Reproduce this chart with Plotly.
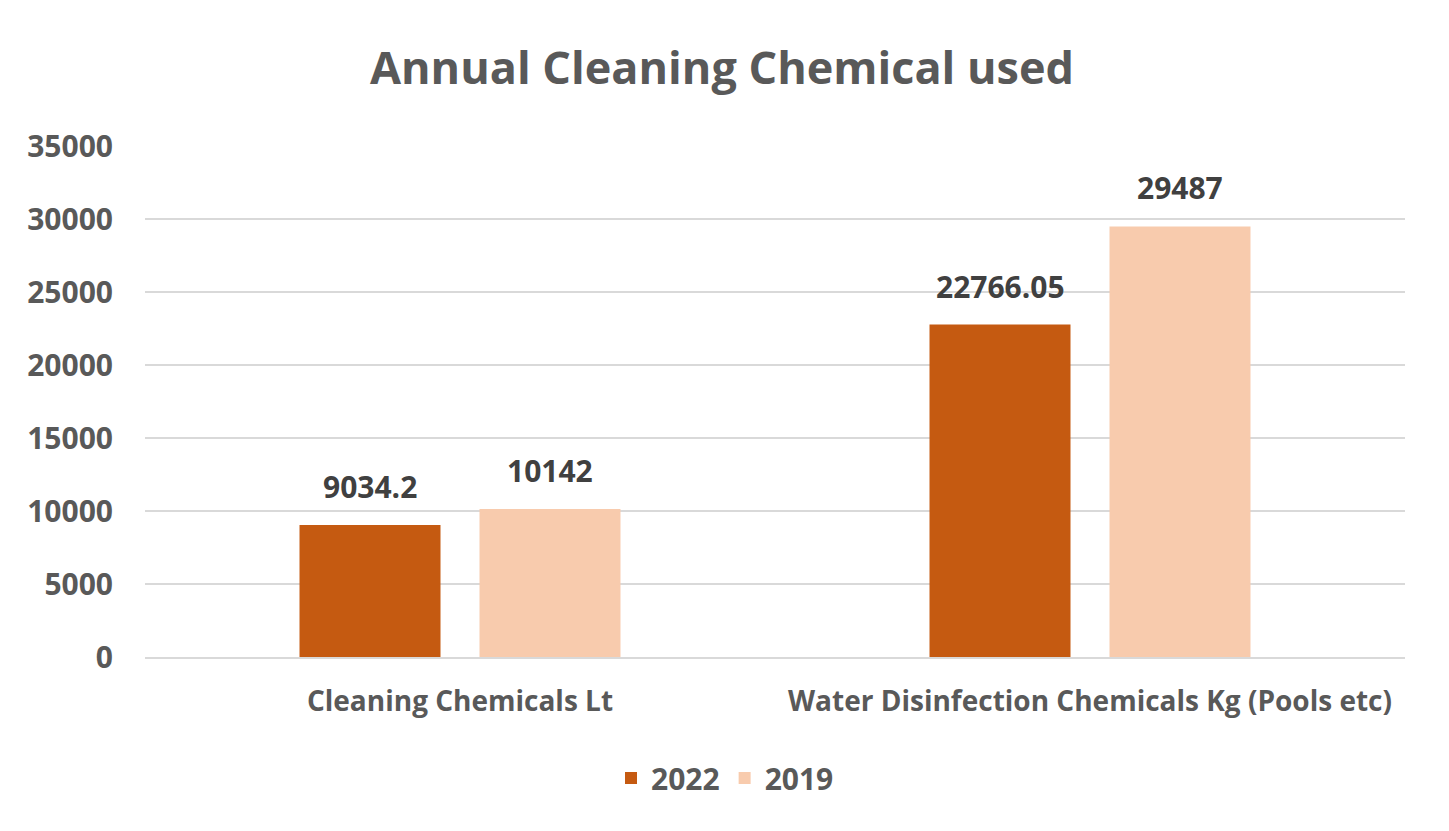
import plotly.graph_objects as go

categories = ["Cleaning Chemicals Lt", "Water Disinfection Chemicals Kg (Pools etc)"]
series_names = ["2022", "2019"]
values_2022 = [9034.2, 22766.05]
values_2019 = [10142, 29487]
value_labels_2022 = ["9034.2", "22766.05"]
value_labels_2019 = ["10142", "29487"]
y_ticks = [0, 5000, 10000, 15000, 20000, 25000, 30000, 35000]

colors = ["#C55A11", "#F8CBAD"]
FONT = "Open Sans"
# page is rendered with an 8px body margin, so the figure is 16px smaller
W, H = 1433, 815
L, R, T, B = 137, 36, 138, 166
plot_w = W - L - R
plot_h = H - T - B

fig = go.Figure()
for name, vals, col in zip(series_names, [values_2022, values_2019], colors):
    fig.add_trace(go.Bar(
        x=categories, y=vals, name=name, showlegend=False,
        marker=dict(color=col, line=dict(width=0)),
    ))
# legend entries with larger square swatches
for name, col in zip(series_names, colors):
    fig.add_trace(go.Scatter(
        x=[None], y=[None], mode="markers", name="<b>" + name + "</b>",
        marker=dict(symbol="square", size=19, color=col),
    ))

# data labels
cat_w = plot_w / len(categories)
bargap = 0.4286
bargroupgap = 0.2167
slot = cat_w * (1 - bargap) / 2
offsets = [-slot / 2, slot / 2]
for vals, labels, off in zip([values_2022, values_2019], [value_labels_2022, value_labels_2019], offsets):
    for c, v, lab in zip(categories, vals, labels):
        fig.add_annotation(
            x=c, y=v, text="<b>" + lab + "</b>", showarrow=False,
            xshift=off, yanchor="bottom", yshift=16,
            font=dict(family=FONT, size=30, color="#404040"),
        )

fig.update_layout(
    width=W, height=H,
    margin=dict(l=L, r=R, t=T, b=B),
    paper_bgcolor="white", plot_bgcolor="white",
    barmode="group", bargap=bargap, bargroupgap=bargroupgap,
    title=dict(text="<b>Annual Cleaning Chemical used</b>", x=(722 - 8) / W, xref="container",
               xanchor="center",
               y=1 - 60 / H, yref="container", yanchor="middle",
               font=dict(family=FONT, size=45, color="#595959")),
    font=dict(family=FONT, color="#595959"),
    legend=dict(orientation="h", x=(725 - 145) / plot_w, xanchor="center",
                y=(657 - 778) / plot_h, yanchor="middle",
                font=dict(family=FONT, size=30, color="#595959"),
                traceorder="normal", itemsizing="constant"),
    yaxis=dict(range=[0, 35000], tickvals=y_ticks, ticktext=["<b>%d</b>" % t for t in y_ticks],
               showgrid=True, gridcolor="#D9D9D9", gridwidth=2,
               zeroline=False, showline=False, ticks="", ticklabelstandoff=31,
               tickfont=dict(family=FONT, size=30, color="#595959")),
    xaxis=dict(showline=True, linecolor="#D9D9D9", linewidth=2, ticks="",
               tickvals=categories, ticktext=["<b>" + c + "</b>" for c in categories],
               tickfont=dict(family=FONT, size=28, color="#595959"), ticklabelstandoff=18),
)

fig.write_html("out.html")
